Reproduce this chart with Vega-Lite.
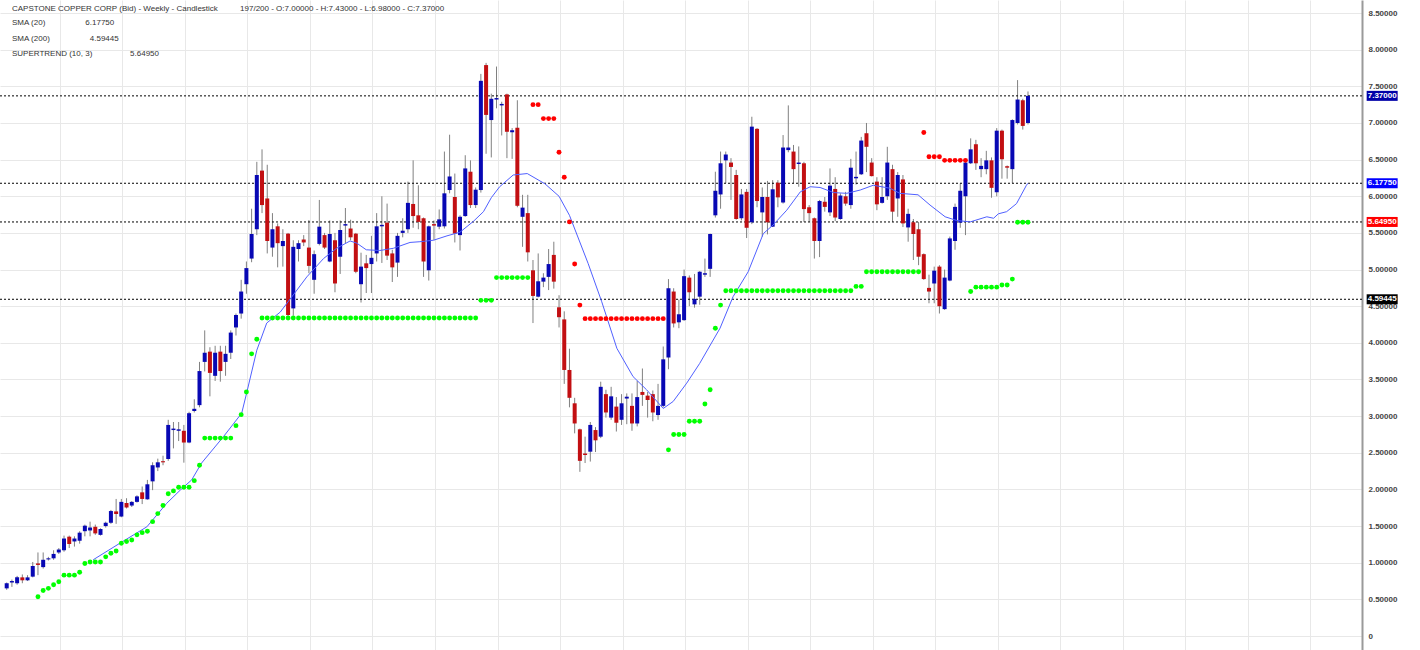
{
"$schema": "https://vega.github.io/schema/vega-lite/v6.json",
"width": 1362, "height": 650,
"autosize": {"type": "none"},
"padding": {"left": 0, "top": 0, "right": 58, "bottom": 0},
"background": "white",
"config": {"view": {"stroke": null}, "font": "Liberation Sans"},
"title": {
 "text": "CAPSTONE COPPER CORP (Bid) - Weekly - Candlestick\u00a0\u00a0\u00a0\u00a0\u00a0\u00a0\u00a0\u00a0\u00a0\u00a0197/200 - O:7.00000 - H:7.43000 - L:6.98000 - C:7.37000",
 "subtitle": ["SMA (20)\u00a0\u00a0\u00a0\u00a0\u00a0\u00a0\u00a0\u00a0\u00a0\u00a0\u00a0\u00a0\u00a0\u00a0\u00a0\u00a0\u00a0\u00a06.17750", "SMA (200)\u00a0\u00a0\u00a0\u00a0\u00a0\u00a0\u00a0\u00a0\u00a0\u00a0\u00a0\u00a0\u00a0\u00a0\u00a0\u00a0\u00a0\u00a04.59445", "SUPERTREND (10, 3)\u00a0\u00a0\u00a0\u00a0\u00a0\u00a0\u00a0\u00a0\u00a0\u00a0\u00a0\u00a0\u00a0\u00a0\u00a0\u00a0\u00a05.64950"],
 "anchor": "start", "frame": "group", "orient": "top", "offset": -58, "dx": 12,
 "font": "Liberation Sans", "fontSize": 8, "fontWeight": "normal", "color": "#333333",
 "subtitleFont": "Liberation Sans", "subtitleFontSize": 8, "subtitleColor": "#333333", "subtitlePadding": 6, "subtitleLineHeight": 15.3
},
"datasets": {
"candles": [
{"i":0,"o":0.65,"h":0.73,"l":0.63,"c":0.72},{"i":1,"o":0.73,"h":0.77,"l":0.67,"c":0.75},{"i":2,"o":0.72,"h":0.82,"l":0.70,"c":0.80},{"i":3,"o":0.80,"h":0.84,"l":0.72,"c":0.76},{"i":4,"o":0.76,"h":0.83,"l":0.75,"c":0.80},
{"i":5,"o":0.81,"h":1.01,"l":0.80,"c":0.955},{"i":6,"o":0.99,"h":1.14,"l":0.83,"c":0.97},{"i":7,"o":0.94,"h":1.14,"l":0.92,"c":1.04},{"i":8,"o":1.045,"h":1.08,"l":1.03,"c":1.06},{"i":9,"o":1.06,"h":1.17,"l":1.04,"c":1.12},
{"i":10,"o":1.14,"h":1.20,"l":1.12,"c":1.18},{"i":11,"o":1.17,"h":1.37,"l":1.15,"c":1.33},{"i":12,"o":1.355,"h":1.37,"l":1.20,"c":1.255},{"i":13,"o":1.29,"h":1.36,"l":1.22,"c":1.33},{"i":14,"o":1.30,"h":1.43,"l":1.26,"c":1.41},
{"i":15,"o":1.43,"h":1.52,"l":1.36,"c":1.505},{"i":16,"o":1.44,"h":1.56,"l":1.36,"c":1.48},{"i":17,"o":1.49,"h":1.52,"l":1.38,"c":1.40},{"i":18,"o":1.38,"h":1.47,"l":1.37,"c":1.46},{"i":19,"o":1.50,"h":1.56,"l":1.48,"c":1.545},
{"i":20,"o":1.545,"h":1.72,"l":1.53,"c":1.705},{"i":21,"o":1.70,"h":1.87,"l":1.53,"c":1.665},{"i":22,"o":1.63,"h":1.87,"l":1.62,"c":1.83},{"i":23,"o":1.815,"h":1.88,"l":1.74,"c":1.755},{"i":24,"o":1.78,"h":1.84,"l":1.76,"c":1.83},
{"i":25,"o":1.83,"h":1.92,"l":1.82,"c":1.905},{"i":26,"o":1.96,"h":2.04,"l":1.80,"c":1.87},{"i":27,"o":1.865,"h":2.13,"l":1.86,"c":2.07},{"i":28,"o":2.11,"h":2.37,"l":1.99,"c":2.33},{"i":29,"o":2.30,"h":2.42,"l":2.25,"c":2.37},
{"i":30,"o":2.385,"h":2.46,"l":2.33,"c":2.37},{"i":31,"o":2.415,"h":2.95,"l":2.39,"c":2.88},{"i":32,"o":2.81,"h":2.92,"l":2.56,"c":2.83},{"i":33,"o":2.80,"h":2.92,"l":2.66,"c":2.82},{"i":34,"o":2.80,"h":2.88,"l":2.365,"c":2.64},
{"i":35,"o":2.64,"h":3.06,"l":2.63,"c":3.04},{"i":36,"o":3.07,"h":3.23,"l":3.05,"c":3.10},{"i":37,"o":3.15,"h":3.74,"l":3.12,"c":3.615},{"i":38,"o":3.74,"h":4.17,"l":3.61,"c":3.865},{"i":39,"o":3.88,"h":3.94,"l":3.27,"c":3.59},
{"i":40,"o":3.55,"h":3.96,"l":3.48,"c":3.865},{"i":41,"o":3.88,"h":3.96,"l":3.47,"c":3.615},{"i":42,"o":3.74,"h":3.96,"l":3.55,"c":3.85},{"i":43,"o":3.865,"h":4.17,"l":3.78,"c":4.14},{"i":44,"o":4.21,"h":4.40,"l":4.10,"c":4.38},
{"i":45,"o":4.40,"h":4.86,"l":4.33,"c":4.70},{"i":46,"o":4.80,"h":5.11,"l":4.67,"c":5.02},{"i":47,"o":5.15,"h":5.83,"l":5.10,"c":5.485},{"i":48,"o":5.55,"h":6.47,"l":5.47,"c":6.29},{"i":49,"o":6.35,"h":6.64,"l":5.77,"c":5.88},
{"i":50,"o":5.97,"h":6.43,"l":5.22,"c":5.39},{"i":51,"o":5.30,"h":5.77,"l":5.175,"c":5.55},{"i":52,"o":5.59,"h":5.63,"l":5.03,"c":5.36},{"i":53,"o":5.32,"h":5.55,"l":5.04,"c":5.39},{"i":54,"o":5.49,"h":5.50,"l":4.35,"c":4.38},
{"i":55,"o":4.47,"h":5.40,"l":4.37,"c":5.31},{"i":56,"o":5.28,"h":5.40,"l":5.11,"c":5.36},{"i":57,"o":5.41,"h":5.47,"l":5.32,"c":5.37},{"i":58,"o":5.30,"h":5.675,"l":4.95,"c":5.05},{"i":59,"o":4.86,"h":5.26,"l":4.67,"c":5.21},
{"i":60,"o":5.35,"h":5.95,"l":5.33,"c":5.585},{"i":61,"o":5.47,"h":5.50,"l":5.28,"c":5.30},{"i":62,"o":5.11,"h":5.67,"l":5.10,"c":5.485},{"i":63,"o":5.40,"h":5.50,"l":4.69,"c":4.81},{"i":64,"o":5.175,"h":5.67,"l":4.94,"c":5.54},
{"i":65,"o":5.60,"h":5.84,"l":5.36,"c":5.62},{"i":66,"o":5.56,"h":5.68,"l":5.40,"c":5.44},{"i":67,"o":5.49,"h":5.50,"l":4.95,"c":4.97},{"i":68,"o":4.80,"h":5.23,"l":4.55,"c":5.04},{"i":69,"o":5.085,"h":5.20,"l":4.68,"c":5.02},
{"i":70,"o":5.075,"h":5.46,"l":4.68,"c":5.16},{"i":71,"o":5.22,"h":5.77,"l":5.11,"c":5.59},{"i":72,"o":5.59,"h":6.00,"l":5.09,"c":5.61},{"i":73,"o":5.64,"h":5.90,"l":5.13,"c":5.19},{"i":74,"o":5.22,"h":5.27,"l":4.83,"c":5.03},
{"i":75,"o":5.095,"h":5.50,"l":4.90,"c":5.46},{"i":76,"o":5.50,"h":5.70,"l":5.44,"c":5.53},{"i":77,"o":5.55,"h":6.20,"l":5.50,"c":5.91},{"i":78,"o":5.895,"h":6.49,"l":5.57,"c":5.73},{"i":79,"o":5.74,"h":6.15,"l":5.55,"c":5.65},
{"i":80,"o":5.70,"h":5.71,"l":4.90,"c":5.11},{"i":81,"o":4.99,"h":5.60,"l":4.85,"c":5.59},{"i":82,"o":5.62,"h":5.67,"l":5.40,"c":5.60},{"i":83,"o":5.585,"h":5.82,"l":5.55,"c":5.685},{"i":84,"o":5.59,"h":6.61,"l":5.56,"c":6.04},
{"i":85,"o":6.085,"h":6.84,"l":6.04,"c":6.27},{"i":86,"o":5.99,"h":6.31,"l":5.37,"c":5.49},{"i":87,"o":5.47,"h":5.74,"l":5.26,"c":5.72},{"i":88,"o":5.73,"h":6.56,"l":5.72,"c":6.38},{"i":89,"o":6.335,"h":6.49,"l":5.84,"c":5.88},
{"i":90,"o":5.88,"h":6.12,"l":5.84,"c":6.09},{"i":91,"o":6.085,"h":7.67,"l":6.05,"c":7.575},{"i":92,"o":7.79,"h":7.82,"l":6.58,"c":7.11},{"i":93,"o":7.04,"h":7.40,"l":6.53,"c":7.33},{"i":94,"o":7.32,"h":7.77,"l":7.20,"c":7.34},
{"i":95,"o":7.24,"h":7.29,"l":6.83,"c":7.26},{"i":96,"o":7.39,"h":7.40,"l":6.52,"c":6.88},{"i":97,"o":6.875,"h":6.93,"l":6.51,"c":6.90},{"i":98,"o":6.935,"h":7.31,"l":5.85,"c":5.87},{"i":99,"o":5.72,"h":6.02,"l":5.31,"c":5.845},
{"i":100,"o":5.77,"h":6.02,"l":5.11,"c":5.235},{"i":101,"o":4.99,"h":5.13,"l":4.27,"c":4.64},{"i":102,"o":4.63,"h":5.22,"l":4.62,"c":4.84},{"i":103,"o":4.835,"h":4.95,"l":4.76,"c":4.89},{"i":104,"o":4.90,"h":5.28,"l":4.72,"c":5.075},
{"i":105,"o":5.20,"h":5.38,"l":4.74,"c":4.835},{"i":106,"o":4.485,"h":4.65,"l":4.21,"c":4.35},{"i":107,"o":4.32,"h":4.43,"l":3.44,"c":3.63},{"i":108,"o":3.63,"h":3.92,"l":3.12,"c":3.25},{"i":109,"o":3.175,"h":3.25,"l":2.765,"c":2.90},
{"i":110,"o":2.82,"h":2.83,"l":2.24,"c":2.39},{"i":111,"o":2.49,"h":2.72,"l":2.36,"c":2.47},{"i":112,"o":2.515,"h":2.92,"l":2.38,"c":2.88},{"i":113,"o":2.81,"h":2.85,"l":2.51,"c":2.67},{"i":114,"o":2.72,"h":3.47,"l":2.70,"c":3.40},
{"i":115,"o":3.30,"h":3.36,"l":2.98,"c":3.05},{"i":116,"o":2.98,"h":3.40,"l":2.95,"c":3.27},{"i":117,"o":3.13,"h":3.26,"l":2.79,"c":2.91},{"i":118,"o":2.95,"h":3.30,"l":2.88,"c":3.175},{"i":119,"o":3.24,"h":3.31,"l":2.89,"c":3.265},
{"i":120,"o":3.14,"h":3.31,"l":2.80,"c":2.90},{"i":121,"o":2.90,"h":3.48,"l":2.86,"c":3.26},{"i":122,"o":3.33,"h":3.65,"l":3.14,"c":3.29},{"i":123,"o":3.28,"h":3.33,"l":2.98,"c":3.22},{"i":124,"o":3.30,"h":3.35,"l":2.93,"c":3.05},
{"i":125,"o":3.015,"h":3.44,"l":2.95,"c":3.14},{"i":126,"o":3.14,"h":3.95,"l":3.12,"c":3.775},{"i":127,"o":3.80,"h":4.87,"l":3.64,"c":4.745},{"i":128,"o":4.70,"h":4.745,"l":4.21,"c":4.265},{"i":129,"o":4.28,"h":4.59,"l":4.20,"c":4.39},
{"i":130,"o":4.31,"h":5.00,"l":4.30,"c":4.91},{"i":131,"o":4.89,"h":4.92,"l":4.50,"c":4.69},{"i":132,"o":4.525,"h":4.94,"l":4.48,"c":4.60},{"i":133,"o":4.63,"h":4.98,"l":4.52,"c":4.97},{"i":134,"o":4.93,"h":5.15,"l":4.90,"c":4.95},
{"i":135,"o":5.01,"h":5.49,"l":4.90,"c":5.485},{"i":136,"o":5.74,"h":6.335,"l":5.71,"c":6.075},{"i":137,"o":6.025,"h":6.61,"l":5.83,"c":6.45},{"i":138,"o":6.49,"h":6.61,"l":6.18,"c":6.57},{"i":139,"o":6.46,"h":6.52,"l":5.95,"c":6.40},
{"i":140,"o":6.29,"h":6.36,"l":5.68,"c":5.69},{"i":141,"o":5.70,"h":6.10,"l":5.67,"c":6.025},{"i":142,"o":6.06,"h":6.10,"l":5.43,"c":5.57},{"i":143,"o":5.645,"h":7.085,"l":5.62,"c":6.95},{"i":144,"o":6.92,"h":6.93,"l":5.85,"c":5.935},
{"i":145,"o":5.78,"h":6.12,"l":5.45,"c":5.99},{"i":146,"o":5.99,"h":6.21,"l":5.48,"c":5.645},{"i":147,"o":5.585,"h":6.22,"l":5.58,"c":6.095},{"i":148,"o":6.185,"h":6.22,"l":5.85,"c":5.985},{"i":149,"o":5.915,"h":6.835,"l":5.90,"c":6.665},
{"i":150,"o":6.63,"h":7.24,"l":6.60,"c":6.665},{"i":151,"o":6.61,"h":6.70,"l":6.18,"c":6.37},{"i":152,"o":6.44,"h":6.68,"l":6.13,"c":6.46},{"i":153,"o":6.45,"h":6.47,"l":5.65,"c":5.825},{"i":154,"o":5.85,"h":5.88,"l":5.65,"c":5.77},
{"i":155,"o":5.70,"h":5.71,"l":5.15,"c":5.39},{"i":156,"o":5.39,"h":5.95,"l":5.17,"c":5.935},{"i":157,"o":5.925,"h":5.99,"l":5.79,"c":5.855},{"i":158,"o":5.78,"h":6.38,"l":5.73,"c":6.145},{"i":159,"o":6.10,"h":6.26,"l":5.66,"c":5.71},
{"i":160,"o":5.69,"h":6.04,"l":5.68,"c":6.01},{"i":161,"o":6.00,"h":6.06,"l":5.87,"c":5.90},{"i":162,"o":5.88,"h":6.51,"l":5.83,"c":6.39},{"i":163,"o":6.245,"h":6.61,"l":6.16,"c":6.265},{"i":164,"o":6.30,"h":6.81,"l":6.29,"c":6.76},
{"i":165,"o":6.86,"h":7.00,"l":6.33,"c":6.675},{"i":166,"o":6.46,"h":6.52,"l":6.27,"c":6.275},{"i":167,"o":6.20,"h":6.26,"l":5.81,"c":5.89},{"i":168,"o":5.91,"h":6.26,"l":5.90,"c":5.99},{"i":169,"o":6.00,"h":6.675,"l":5.95,"c":6.46},
{"i":170,"o":6.37,"h":6.43,"l":5.65,"c":5.79},{"i":171,"o":5.97,"h":6.33,"l":5.72,"c":6.29},{"i":172,"o":6.23,"h":6.29,"l":5.58,"c":5.63},{"i":173,"o":5.575,"h":5.83,"l":5.38,"c":5.76},{"i":174,"o":5.645,"h":5.69,"l":5.13,"c":5.485},
{"i":175,"o":5.55,"h":5.65,"l":5.06,"c":5.175},{"i":176,"o":5.21,"h":5.22,"l":4.86,"c":4.87},{"i":177,"o":4.75,"h":4.93,"l":4.54,"c":4.70},{"i":178,"o":4.81,"h":5.04,"l":4.54,"c":4.985},{"i":179,"o":5.04,"h":5.06,"l":4.40,"c":4.50},
{"i":180,"o":4.46,"h":5.00,"l":4.45,"c":4.89},{"i":181,"o":4.85,"h":5.45,"l":4.84,"c":5.425},{"i":182,"o":5.39,"h":5.90,"l":5.27,"c":5.855},{"i":183,"o":5.64,"h":6.175,"l":5.57,"c":6.075},{"i":184,"o":6.00,"h":6.50,"l":5.47,"c":6.46},
{"i":185,"o":6.45,"h":6.79,"l":6.44,"c":6.64},{"i":186,"o":6.71,"h":6.77,"l":6.36,"c":6.45},{"i":187,"o":6.37,"h":6.52,"l":6.26,"c":6.415},{"i":188,"o":6.37,"h":6.62,"l":6.30,"c":6.49},{"i":189,"o":6.49,"h":6.53,"l":5.98,"c":6.115},
{"i":190,"o":6.055,"h":6.93,"l":6.00,"c":6.895},{"i":191,"o":6.895,"h":6.91,"l":6.24,"c":6.505},{"i":192,"o":6.41,"h":6.42,"l":6.24,"c":6.39},{"i":193,"o":6.37,"h":7.05,"l":6.18,"c":7.04},{"i":194,"o":7.00,"h":7.585,"l":6.98,"c":7.32},
{"i":195,"o":7.31,"h":7.33,"l":6.91,"c":6.96},{"i":196,"o":7.00,"h":7.43,"l":6.98,"c":7.37}
],
"sma": [
{"i":16.6,"v":1.04},{"i":21.7,"v":1.265},{"i":26.9,"v":1.49},{"i":30.7,"v":1.81},{"i":33.3,"v":1.99},{"i":35.5,"v":2.13},{"i":37.4,"v":2.36},{"i":41.6,"v":2.72},{"i":45.1,"v":3.04},{"i":46.1,"v":3.33},{"i":48,"v":3.9},{"i":49.9,"v":4.27},{"i":52.5,"v":4.42},{"i":55.7,"v":4.72},{"i":57.6,"v":4.9},{"i":60.8,"v":5.15},{"i":63.3,"v":5.29},{"i":65.9,"v":5.39},{"i":67.2,"v":5.36},{"i":69,"v":5.27},{"i":71.6,"v":5.26},{"i":74.2,"v":5.29},{"i":77.4,"v":5.37},{"i":79.3,"v":5.38},{"i":81.9,"v":5.4},{"i":84.5,"v":5.46},{"i":87,"v":5.51},{"i":89.6,"v":5.66},{"i":91.5,"v":5.79},{"i":93,"v":5.98},{"i":94.6,"v":6.13},{"i":97.2,"v":6.29},{"i":99.9,"v":6.31},{"i":103.3,"v":6.17},{"i":106,"v":6.0},{"i":108,"v":5.74},{"i":111.6,"v":5.08},{"i":114.2,"v":4.56},{"i":117.1,"v":3.925},{"i":120.2,"v":3.54},{"i":122.8,"v":3.36},{"i":126,"v":3.105},{"i":127.9,"v":3.2},{"i":130.5,"v":3.45},{"i":133,"v":3.72},{"i":136.9,"v":4.2},{"i":139.4,"v":4.63},{"i":142.3,"v":4.97},{"i":145.2,"v":5.49},{"i":147.1,"v":5.61},{"i":149.7,"v":5.81},{"i":152.3,"v":6.06},{"i":154.2,"v":6.13},{"i":156.1,"v":6.12},{"i":158.7,"v":6.05},{"i":161.2,"v":6.04},{"i":163.8,"v":6.085},{"i":166.3,"v":6.15},{"i":169.5,"v":6.11},{"i":171.4,"v":6.04},{"i":174.9,"v":6.02},{"i":177.2,"v":5.88},{"i":180.1,"v":5.72},{"i":182.3,"v":5.67},{"i":184.9,"v":5.65},{"i":188.1,"v":5.72},{"i":189.4,"v":5.7},{"i":190.3,"v":5.76},{"i":191.9,"v":5.79},{"i":193.8,"v":5.9},{"i":195.7,"v":6.15},{"i":196,"v":6.1775}
],
"st": [
{"i":6,"v":0.536,"side":"up"},{"i":7,"v":0.62,"side":"up"},{"i":8,"v":0.65,"side":"up"},{"i":9,"v":0.70,"side":"up"},{"i":10,"v":0.74,"side":"up"},{"i":11,"v":0.83,"side":"up"},{"i":12,"v":0.83,"side":"up"},{"i":13,"v":0.83,"side":"up"},{"i":14,"v":0.87,"side":"up"},{"i":15,"v":0.99,"side":"up"},
{"i":16,"v":1.01,"side":"up"},{"i":17,"v":1.01,"side":"up"},{"i":18,"v":1.01,"side":"up"},{"i":19,"v":1.08,"side":"up"},{"i":20,"v":1.13,"side":"up"},{"i":21,"v":1.16,"side":"up"},{"i":22,"v":1.265,"side":"up"},{"i":23,"v":1.29,"side":"up"},{"i":24,"v":1.31,"side":"up"},{"i":25,"v":1.38,"side":"up"},
{"i":26,"v":1.41,"side":"up"},{"i":27,"v":1.43,"side":"up"},{"i":28,"v":1.56,"side":"up"},{"i":29,"v":1.67,"side":"up"},{"i":30,"v":1.78,"side":"up"},{"i":31,"v":1.94,"side":"up"},{"i":32,"v":1.98,"side":"up"},{"i":33,"v":2.03,"side":"up"},{"i":34,"v":2.03,"side":"up"},{"i":35,"v":2.03,"side":"up"},
{"i":36,"v":2.12,"side":"up"},{"i":37,"v":2.33,"side":"up"},{"i":38,"v":2.70,"side":"up"},{"i":39,"v":2.70,"side":"up"},{"i":40,"v":2.70,"side":"up"},{"i":41,"v":2.70,"side":"up"},{"i":42,"v":2.70,"side":"up"},{"i":43,"v":2.70,"side":"up"},{"i":44,"v":2.87,"side":"up"},{"i":45,"v":3.02,"side":"up"},
{"i":46,"v":3.33,"side":"up"},{"i":47,"v":3.85,"side":"up"},{"i":48,"v":4.05,"side":"up"},
{"i":49,"v":4.34,"side":"up"},{"i":50,"v":4.34,"side":"up"},{"i":51,"v":4.34,"side":"up"},{"i":52,"v":4.34,"side":"up"},{"i":53,"v":4.34,"side":"up"},{"i":54,"v":4.34,"side":"up"},{"i":55,"v":4.34,"side":"up"},{"i":56,"v":4.34,"side":"up"},{"i":57,"v":4.34,"side":"up"},{"i":58,"v":4.34,"side":"up"},
{"i":59,"v":4.34,"side":"up"},{"i":60,"v":4.34,"side":"up"},{"i":61,"v":4.34,"side":"up"},{"i":62,"v":4.34,"side":"up"},{"i":63,"v":4.34,"side":"up"},{"i":64,"v":4.34,"side":"up"},{"i":65,"v":4.34,"side":"up"},{"i":66,"v":4.34,"side":"up"},{"i":67,"v":4.34,"side":"up"},{"i":68,"v":4.34,"side":"up"},
{"i":69,"v":4.34,"side":"up"},{"i":70,"v":4.34,"side":"up"},{"i":71,"v":4.34,"side":"up"},{"i":72,"v":4.34,"side":"up"},{"i":73,"v":4.34,"side":"up"},{"i":74,"v":4.34,"side":"up"},{"i":75,"v":4.34,"side":"up"},{"i":76,"v":4.34,"side":"up"},{"i":77,"v":4.34,"side":"up"},{"i":78,"v":4.34,"side":"up"},
{"i":79,"v":4.34,"side":"up"},{"i":80,"v":4.34,"side":"up"},{"i":81,"v":4.34,"side":"up"},{"i":82,"v":4.34,"side":"up"},{"i":83,"v":4.34,"side":"up"},{"i":84,"v":4.34,"side":"up"},{"i":85,"v":4.34,"side":"up"},{"i":86,"v":4.34,"side":"up"},{"i":87,"v":4.34,"side":"up"},{"i":88,"v":4.34,"side":"up"},
{"i":89,"v":4.34,"side":"up"},{"i":90,"v":4.34,"side":"up"},{"i":91,"v":4.58,"side":"up"},{"i":92,"v":4.58,"side":"up"},{"i":93,"v":4.58,"side":"up"},{"i":94,"v":4.89,"side":"up"},{"i":95,"v":4.89,"side":"up"},{"i":96,"v":4.89,"side":"up"},{"i":97,"v":4.89,"side":"up"},{"i":98,"v":4.89,"side":"up"},
{"i":99,"v":4.89,"side":"up"},{"i":100,"v":4.89,"side":"up"},
{"i":101,"v":7.25,"side":"down"},{"i":102,"v":7.25,"side":"down"},{"i":103,"v":7.06,"side":"down"},{"i":104,"v":7.06,"side":"down"},{"i":105,"v":7.06,"side":"down"},{"i":106,"v":6.60,"side":"down"},{"i":107,"v":6.26,"side":"down"},{"i":108,"v":5.65,"side":"down"},{"i":109,"v":5.075,"side":"down"},{"i":110,"v":4.515,"side":"down"},
{"i":111,"v":4.33,"side":"down"},{"i":112,"v":4.33,"side":"down"},{"i":113,"v":4.33,"side":"down"},{"i":114,"v":4.33,"side":"down"},{"i":115,"v":4.33,"side":"down"},{"i":116,"v":4.33,"side":"down"},{"i":117,"v":4.33,"side":"down"},{"i":118,"v":4.33,"side":"down"},{"i":119,"v":4.33,"side":"down"},{"i":120,"v":4.33,"side":"down"},
{"i":121,"v":4.33,"side":"down"},{"i":122,"v":4.33,"side":"down"},{"i":123,"v":4.33,"side":"down"},{"i":124,"v":4.33,"side":"down"},{"i":125,"v":4.33,"side":"down"},{"i":126,"v":4.33,"side":"down"},
{"i":127,"v":2.54,"side":"up"},{"i":128,"v":2.75,"side":"up"},{"i":129,"v":2.75,"side":"up"},{"i":130,"v":2.75,"side":"up"},{"i":131,"v":2.93,"side":"up"},{"i":132,"v":2.93,"side":"up"},{"i":133,"v":2.93,"side":"up"},{"i":134,"v":3.165,"side":"up"},{"i":135,"v":3.36,"side":"up"},{"i":136,"v":4.20,"side":"up"},
{"i":137,"v":4.515,"side":"up"},{"i":138,"v":4.71,"side":"up"},{"i":139,"v":4.71,"side":"up"},{"i":140,"v":4.71,"side":"up"},{"i":141,"v":4.71,"side":"up"},{"i":142,"v":4.71,"side":"up"},{"i":143,"v":4.71,"side":"up"},{"i":144,"v":4.71,"side":"up"},{"i":145,"v":4.71,"side":"up"},{"i":146,"v":4.71,"side":"up"},
{"i":147,"v":4.71,"side":"up"},{"i":148,"v":4.71,"side":"up"},{"i":149,"v":4.71,"side":"up"},{"i":150,"v":4.71,"side":"up"},{"i":151,"v":4.71,"side":"up"},{"i":152,"v":4.71,"side":"up"},{"i":153,"v":4.71,"side":"up"},{"i":154,"v":4.71,"side":"up"},{"i":155,"v":4.71,"side":"up"},{"i":156,"v":4.71,"side":"up"},
{"i":157,"v":4.71,"side":"up"},{"i":158,"v":4.71,"side":"up"},{"i":159,"v":4.71,"side":"up"},{"i":160,"v":4.71,"side":"up"},{"i":161,"v":4.71,"side":"up"},{"i":162,"v":4.71,"side":"up"},{"i":163,"v":4.77,"side":"up"},{"i":164,"v":4.77,"side":"up"},{"i":165,"v":4.97,"side":"up"},{"i":166,"v":4.97,"side":"up"},
{"i":167,"v":4.97,"side":"up"},{"i":168,"v":4.97,"side":"up"},{"i":169,"v":4.97,"side":"up"},{"i":170,"v":4.97,"side":"up"},{"i":171,"v":4.97,"side":"up"},{"i":172,"v":4.97,"side":"up"},{"i":173,"v":4.97,"side":"up"},{"i":174,"v":4.97,"side":"up"},{"i":175,"v":4.97,"side":"up"},
{"i":176,"v":6.87,"side":"down"},{"i":177,"v":6.54,"side":"down"},{"i":178,"v":6.54,"side":"down"},{"i":179,"v":6.54,"side":"down"},{"i":180,"v":6.49,"side":"down"},{"i":181,"v":6.49,"side":"down"},{"i":182,"v":6.49,"side":"down"},{"i":183,"v":6.49,"side":"down"},{"i":184,"v":6.49,"side":"down"},
{"i":185,"v":4.70,"side":"up"},{"i":186,"v":4.76,"side":"up"},{"i":187,"v":4.76,"side":"up"},{"i":188,"v":4.76,"side":"up"},{"i":189,"v":4.76,"side":"up"},{"i":190,"v":4.76,"side":"up"},{"i":191,"v":4.79,"side":"up"},{"i":192,"v":4.79,"side":"up"},{"i":193,"v":4.87,"side":"up"},{"i":194,"v":5.645,"side":"up"},
{"i":195,"v":5.645,"side":"up"},{"i":196,"v":5.645,"side":"up"}
],
"levels": [
{"name":"Last","value":7.37},{"name":"SMA (20)","value":6.1775},{"name":"SUPERTREND (10, 3)","value":5.6495},{"name":"SMA (200)","value":4.59445}
]
},
"layer": [
{
 "data": {"name": "candles"},
 "mark": {"type": "rule", "color": "#808080", "strokeWidth": 1},
 "encoding": {
  "x": {"field": "i", "type": "quantitative", "title": null,
   "scale": {"domain": [-1.286, 260.1], "nice": false, "zero": false, "padding": 0},
   "axis": {"orient": "bottom", "values": [10.2,22.2,34.2,46.2,58.2,70.2,82.2,94.2,106.2,118.2,130.2,142.2,154.2,166.2,178.2,190.2,202.2,214.2,226.2,238.2,250.2], "tickCount": 40, "grid": true, "gridColor": "#e8e8e8", "gridWidth": 1, "labels": false, "ticks": false, "domain": false, "title": null}},
  "y": {"field": "l", "type": "quantitative", "title": null,
   "scale": {"domain": [-0.191, 8.678], "nice": false, "zero": false, "padding": 0},
   "axis": {"orient": "right", "values": [0,0.5,1,1.5,2,2.5,3,3.5,4,4.5,5,5.5,6,6.5,7,7.5,8,8.5], "tickCount": 40, "grid": true, "gridColor": "#e8e8e8", "gridWidth": 1, "ticks": false, "domainColor": "#9a9a9a", "domainWidth": 2, "labelExpr": "datum.value == 0 ? '0' : format(datum.value, '.5f')", "labelFont": "Liberation Sans", "labelFontSize": 8, "labelFontWeight": "bold", "labelColor": "#444444", "labelPadding": 6, "labelAlign": "left", "labelBaseline": "middle", "labelOverlap": false, "labelFlush": false, "labelBound": false, "title": null}},
  "y2": {"field": "h"}
 }
},
{
 "data": {"name": "levels"},
 "mark": {"type": "rule", "color": "#000000", "strokeWidth": 1, "strokeDash": [2, 2]},
 "encoding": {"y": {"field": "value", "type": "quantitative", "title": null}}
},
{
 "data": {"name": "candles"},
 "mark": {"type": "bar", "width": 4},
 "encoding": {
  "x": {"field": "i", "type": "quantitative", "title": null},
  "y": {"field": "o", "type": "quantitative", "title": null},
  "y2": {"field": "c"},
  "color": {"condition": {"test": "datum.c >= datum.o", "value": "#0808b4"}, "value": "#c20f12"}
 }
},
{
 "data": {"name": "sma"},
 "mark": {"type": "line", "color": "#5060ff", "strokeWidth": 1},
 "encoding": {
  "x": {"field": "i", "type": "quantitative", "title": null},
  "y": {"field": "v", "type": "quantitative", "title": null}
 }
},
{
 "data": {"name": "st"},
 "mark": {"type": "point", "filled": true, "size": 24, "opacity": 1},
 "encoding": {
  "x": {"field": "i", "type": "quantitative", "title": null},
  "y": {"field": "v", "type": "quantitative", "title": null},
  "color": {"condition": {"test": "datum.side == 'up'", "value": "#00ff00"}, "value": "#ff0000"}
 }
},
{
 "data": {"name": "levels"},
 "mark": {"type": "tick", "orient": "horizontal", "size": 31, "thickness": 10, "opacity": 1},
 "encoding": {
  "x": {"datum": 263.97, "type": "quantitative"},
  "y": {"field": "value", "type": "quantitative", "title": null},
  "color": {"field": "name", "type": "nominal", "legend": null, "scale": {"domain": ["Last", "SMA (20)", "SUPERTREND (10, 3)", "SMA (200)"], "range": ["#0000a8", "#0000ff", "#ff0000", "#000000"]}}
 }
},
{
 "data": {"name": "levels"},
 "mark": {"type": "text", "color": "#ffffff", "font": "Liberation Sans", "fontSize": 8, "fontWeight": "bold", "align": "center", "baseline": "middle"},
 "encoding": {
  "x": {"datum": 263.97, "type": "quantitative"},
  "y": {"field": "value", "type": "quantitative", "title": null},
  "text": {"field": "value", "type": "quantitative", "format": ".5f"}
 }
}
]
}
